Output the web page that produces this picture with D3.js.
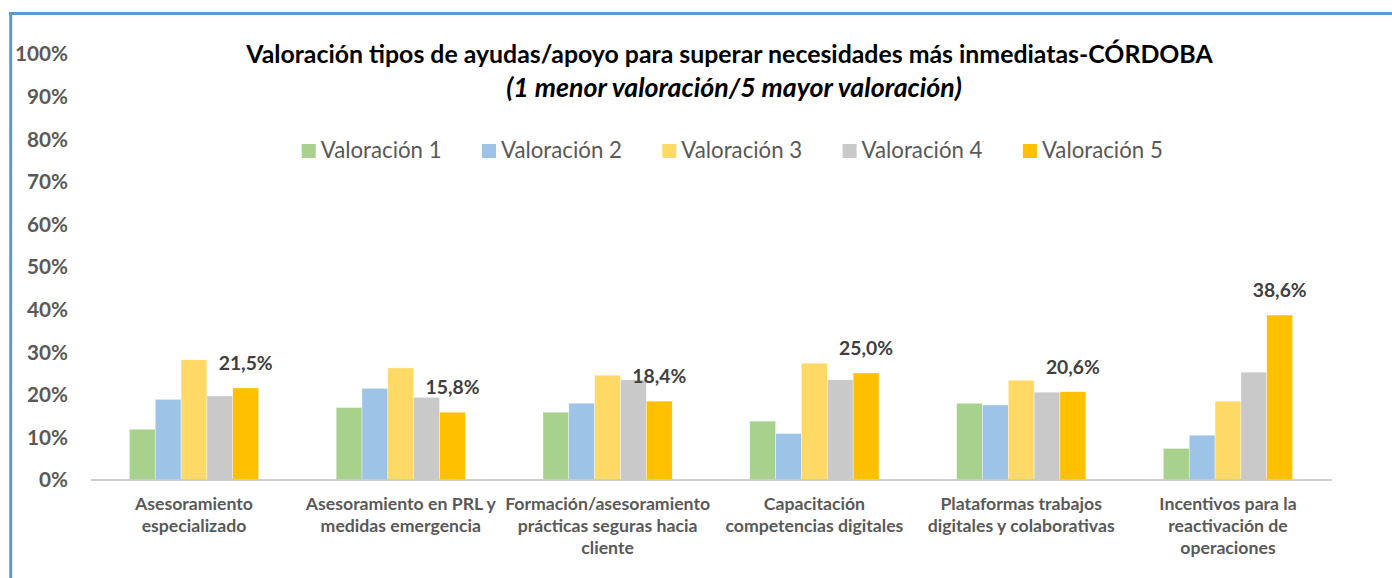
<!DOCTYPE html>
<html lang="es">
<head>
<meta charset="utf-8">
<title>Valoración tipos de ayudas/apoyo - CÓRDOBA</title>
<script src="https://cdn.jsdelivr.net/npm/d3@7"></script>
<style>
  html, body { margin: 0; padding: 0; background: #ffffff; }
  svg { display: block; font-family: Lato, "Liberation Sans", sans-serif; }
</style>
</head>
<body>
<svg id="chart" width="1392" height="578"></svg>
<script>
// ---- Data -----------------------------------------------------------
const categories = [
  "Asesoramiento\nespecializado",
  "Asesoramiento en PRL y\nmedidas emergencia",
  "Formación/asesoramiento\nprácticas seguras hacia\ncliente",
  "Capacitación\ncompetencias digitales",
  "Plataformas trabajos\ndigitales y colaborativas",
  "Incentivos para la\nreactivación de\noperaciones"
];
const seriesNames = ["Valoración 1", "Valoración 2", "Valoración 3", "Valoración 4", "Valoración 5"];
const valoracion1 = [0.118, 0.169, 0.158, 0.137, 0.179, 0.073];
const valoracion2 = [0.188, 0.214, 0.179, 0.108, 0.175, 0.104];
const valoracion3 = [0.281, 0.262, 0.245, 0.273, 0.233, 0.184];
const valoracion4 = [0.196, 0.193, 0.234, 0.234, 0.205, 0.252];
const valoracion5 = [0.215, 0.158, 0.184, 0.250, 0.206, 0.386];
const seriesValues = [valoracion1, valoracion2, valoracion3, valoracion4, valoracion5];
const yTicks = [0, 0.1, 0.2, 0.3, 0.4, 0.5, 0.6, 0.7, 0.8, 0.9, 1.0];
const labelledSeries = "Valoración 5";

const titleText = "Valoración tipos de ayudas/apoyo para superar necesidades más inmediatas-CÓRDOBA";
const subtitleText = "(1 menor valoración/5 mayor valoración)";

const colors = ["#a9d18e", "#9dc3e6", "#ffd966", "#c9c9c9", "#ffc000"];

// ---- Setup ----------------------------------------------------------
const svg = d3.select("#chart");
const W = 1392, H = 578;
svg.append("rect").attr("width", W).attr("height", H).attr("fill", "#ffffff");

// Frame lines (top and left edges of the chart box)
svg.append("line").attr("x1", 9).attr("x2", W).attr("y1", 13.5).attr("y2", 13.5)
  .attr("stroke", "#5b9bd5").attr("stroke-width", 3);
svg.append("line").attr("x1", 10.7).attr("x2", 10.7).attr("y1", 12).attr("y2", H)
  .attr("stroke", "#5b9bd5").attr("stroke-width", 3);

const esLocale = d3.formatLocale({ decimal: ",", thousands: ".", grouping: [3], currency: ["", " €"] });
const pct0 = esLocale.format(".0%");
const pct1 = esLocale.format(".1%");

// Size a text node so that its rendered width equals the wanted width
function fitSize(sample, weight, style, wanted) {
  const t = svg.append("text").attr("font-size", 100)
    .attr("font-weight", weight).attr("font-style", style).text(sample);
  const w = t.node().getComputedTextLength();
  t.remove();
  return 100 * wanted / w;
}

const plot = { left: 90.6, right: 1331.4, top: 53.5, bottom: 479.5 };

const x0 = d3.scaleBand().domain(categories).range([plot.left, plot.right]).padding(0);
const x1 = d3.scaleBand().domain(seriesNames).range([0, x0.bandwidth()])
  .paddingInner(0).paddingOuter(1.5);
const y = d3.scaleLinear().domain([0, 1]).range([plot.bottom, plot.top]);
const color = d3.scaleOrdinal().domain(seriesNames).range(colors);

// ---- Title ----------------------------------------------------------
const titleSize = fitSize(titleText, "bold", "normal", 967);
svg.append("text").attr("x", 729.5).attr("y", 63).attr("text-anchor", "middle")
  .attr("font-size", titleSize).attr("font-weight", "bold").attr("fill", "#000000")
  .text(titleText);
const subSize = fitSize(subtitleText, "bold", "italic", 456);
svg.append("text").attr("x", 734).attr("y", 97).attr("text-anchor", "middle")
  .attr("font-size", subSize).attr("font-weight", "bold").attr("font-style", "italic")
  .attr("fill", "#000000").text(subtitleText);

// ---- Legend ---------------------------------------------------------
const legendSize = fitSize("Valoración 1", "normal", "normal", 121);
const legend = svg.append("g").selectAll("g").data(seriesNames).join("g")
  .attr("transform", (d, i) => `translate(${301.7 + i * 180.3},0)`);
legend.append("rect").attr("x", 0).attr("y", 144).attr("width", 14).attr("height", 14)
  .attr("fill", d => color(d));
legend.append("text").attr("x", 19).attr("y", 158)
  .attr("font-size", legendSize).attr("fill", "#595959").text(d => d);

// ---- Y axis (labels only) ------------------------------------------
const tickSize = fitSize("100%", "bold", "normal", 53);
const yAxis = svg.append("g").attr("transform", "translate(68,0)")
  .call(d3.axisLeft(y).tickValues(yTicks).tickFormat(pct0).tickSize(0).tickPadding(0));
yAxis.select(".domain").remove();
yAxis.selectAll("text").attr("font-size", tickSize).attr("font-weight", "bold")
  .attr("fill", "#595959").attr("font-family", "Lato, 'Liberation Sans', sans-serif")
  .attr("dy", "0.36em");

// ---- Bars -----------------------------------------------------------
const rows = categories.map((c, ci) => ({
  category: c,
  values: seriesNames.map((s, si) => ({ series: s, value: seriesValues[si][ci] }))
}));

const groups = svg.append("g").selectAll("g").data(rows).join("g")
  .attr("transform", d => `translate(${x0(d.category)},0)`);

groups.selectAll("rect").data(d => d.values).join("rect")
  .attr("x", d => x1(d.series))
  .attr("y", d => y(d.value))
  .attr("width", x1.bandwidth())
  .attr("height", d => y(0) - y(d.value))
  .attr("fill", d => color(d.series))
  .attr("stroke", "#ffffff").attr("stroke-opacity", 0.6).attr("stroke-width", 0.6);

// Value labels on the highest rating
const dataLabelSize = fitSize("21,5%", "bold", "normal", 54);
groups.selectAll("text.value").data(d => d.values.filter(v => v.series === labelledSeries))
  .join("text").attr("class", "value")
  .attr("x", d => x1(d.series) + x1.bandwidth() / 2)
  .attr("y", d => y(d.value) - 18)
  .attr("text-anchor", "middle")
  .attr("font-size", dataLabelSize).attr("font-weight", "bold").attr("fill", "#404040")
  .text(d => pct1(d.value));

// ---- X axis ---------------------------------------------------------
const xAxis = svg.append("g").attr("transform", `translate(0,${plot.bottom})`)
  .call(d3.axisBottom(x0).tickSize(0).tickFormat(""));
xAxis.select(".domain").attr("stroke", "#bfbfbf").attr("stroke-width", 1.5);

const catSize = fitSize("Asesoramiento", "bold", "normal", 118);
const catLabels = svg.append("g").selectAll("text").data(categories).join("text")
  .attr("x", d => x0(d) + x0.bandwidth() / 2)
  .attr("y", 510)
  .attr("text-anchor", "middle")
  .attr("font-size", catSize).attr("font-weight", "bold").attr("fill", "#595959");
catLabels.selectAll("tspan").data(d => d.split("\n")).join("tspan")
  .attr("x", function () { return d3.select(this.parentNode).attr("x"); })
  .attr("dy", (d, i) => i === 0 ? 0 : 22)
  .text(d => d);
</script>
</body>
</html>
